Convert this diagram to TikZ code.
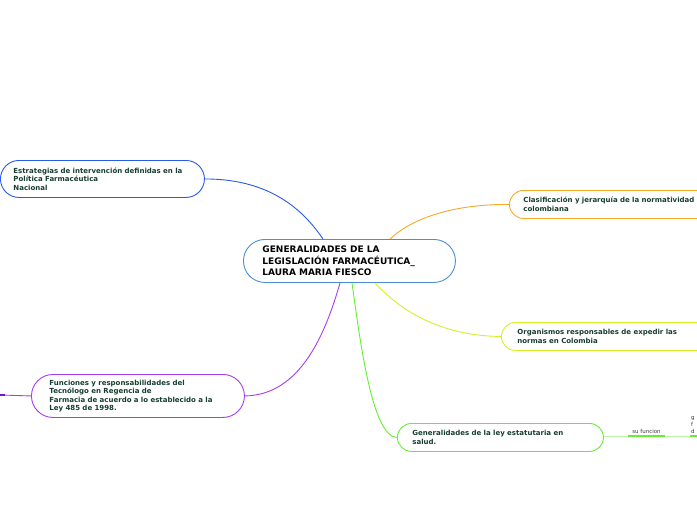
\documentclass[tikz,border=0pt]{standalone}
\usepackage{fontspec}
\setmainfont{DejaVu Sans}
\definecolor{txt}{RGB}{22,62,46}
\definecolor{cblue}{RGB}{74,144,208}
\definecolor{bblue}{RGB}{40,90,235}
\definecolor{corange}{RGB}{248,168,40}
\definecolor{cyellow}{RGB}{214,240,40}
\definecolor{cpurple}{RGB}{168,60,240}
\definecolor{dpurple}{RGB}{120,20,200}
\definecolor{cgreen}{RGB}{100,240,50}
\definecolor{lgreen}{RGB}{190,246,170}
\begin{document}
\begin{tikzpicture}[x=1pt,y=-1pt,
  box/.style={draw, line width=0.9pt, anchor=north west, align=left, text=txt,
    font=\fontsize{7}{8.5}\selectfont\bfseries, inner ysep=0pt},
  conn/.style={line width=0.9pt},
  small/.style={text=black!75, font=\fontsize{5.5}{7}\selectfont, inner sep=0pt}]
\useasboundingbox (0,0) rectangle (697,520);
\clip (0,0) rectangle (697,520);
% central
\node[box, draw=cblue, text=black, font=\fontsize{9}{11.5}\selectfont\bfseries,
  minimum width=212pt, minimum height=43pt, rounded corners=21.5pt,
  inner xsep=19pt, text width=174pt] (c) at (243,239)
  {GENERALIDADES DE LA\\LEGISLACIÓN FARMACÉUTICA\_\\LAURA MARIA FIESCO};
% children
\node[box, draw=bblue, minimum width=204pt, minimum height=37pt, rounded corners=18.5pt,
  inner xsep=13pt, text width=178pt] (n1) at (0,160)
  {Estrategias de intervención definidas en la\\Política Farmacéutica\\Nacional};
\node[box, draw=corange, minimum width=230pt, minimum height=28pt, rounded corners=14pt,
  inner xsep=14pt, text width=202pt] (n2) at (509,190)
  {Clasificación y jerarquía de la normatividad\\colombiana};
\node[box, draw=cyellow, minimum width=230pt, minimum height=28pt, rounded corners=14pt,
  inner xsep=16pt, text width=198pt] (n3) at (501,322)
  {Organismos responsables de expedir las\\normas en Colombia};
\node[box, draw=cpurple, minimum width=213pt, minimum height=43pt, rounded corners=21.5pt,
  inner xsep=18pt, text width=177pt] (n4) at (31,374)
  {Funciones y responsabilidades del\\Tecnólogo en Regencia de\\Farmacia de acuerdo a lo establecido a la\\Ley 485 de 1998.};
\node[box, draw=cgreen, minimum width=206pt, minimum height=28pt, rounded corners=14pt,
  inner xsep=15pt, text width=176pt] (n5) at (397,423)
  {Generalidades de la ley estatutaria en\\salud.};
% anchor points on central node
\coordinate (cb) at (323,239);
\coordinate (co) at (390,239);
\coordinate (cy) at (375,283);
\coordinate (cp) at (340,283);
\coordinate (cg) at (352,283);
% connectors
\draw[conn, bblue] (n1.east) .. controls (265,179) and (300,205) .. (cb);
\draw[conn, corange] (n2.west) .. controls (450,204) and (410,220) .. (co);
\draw[conn, cyellow] (n3.west) .. controls (440,336) and (400,310) .. (cy);
\draw[conn, cpurple] (n4.east) .. controls (300,395) and (325,335) .. (cp);
\draw[conn, cgreen] (n5.west) .. controls (372,437) and (360,340) .. (cg);
% left purple stub
\coordinate (pl) at (0,395);
\coordinate (pl2) at (5,395);
\draw[conn, cpurple] (n4.west) -- (pl);
\draw[line width=1.8pt, dpurple] (pl) -- (pl2);
% right green extension
\coordinate (ge) at (697,436);
\coordinate (s1) at (628,436);
\coordinate (s2) at (665,436);
\coordinate (s3) at (690,436);
\draw[conn, lgreen] (n5.east |- ge) -- (ge);
\draw[line width=1.8pt, cgreen] (s1) -- (s2) node[midway, above=2pt, small] (lab) {su funcion};
\draw[line width=1.8pt, cgreen] (s3) -- (ge);
\node[anchor=south west, align=left, small] (cut) at (691,434) {g\\f\\d};
\end{tikzpicture}
\end{document}
